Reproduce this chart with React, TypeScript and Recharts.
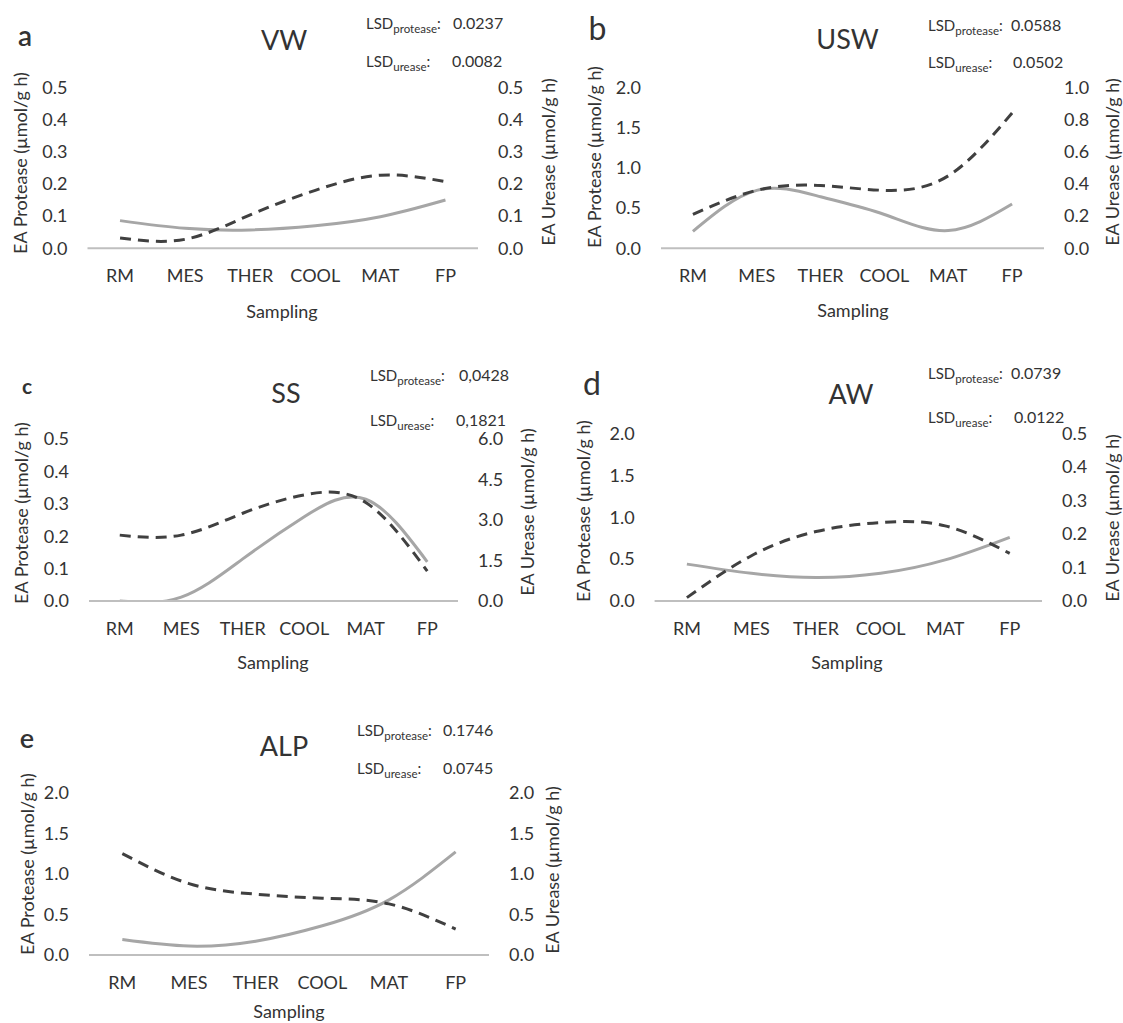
import React from 'react';
import { LineChart, Line, XAxis, YAxis } from 'recharts';

const FONT = 'Lato, "Open Sans", sans-serif';
const TEXT = '#333333';

const categories = ['RM', 'MES', 'THER', 'COOL', 'MAT', 'FP'];

// VW
const vwProtease = [0.086, 0.062, 0.057, 0.07, 0.098, 0.15];
const vwUrease = [0.032, 0.028, 0.104, 0.18, 0.227, 0.207];
// USW
const uswProtease = [0.21, 0.72, 0.64, 0.42, 0.22, 0.55];
const uswUrease = [0.21, 0.36, 0.39, 0.36, 0.45, 0.84];
// SS
const ssProtease = [0, 0.012, 0.13, 0.26, 0.314, 0.121];
const ssUrease = [2.44, 2.44, 3.25, 3.93, 3.65, 1.11];
// AW
const awProtease = [0.44, 0.33, 0.28, 0.33, 0.49, 0.76];
const awUrease = [0.01, 0.135, 0.207, 0.234, 0.224, 0.142];
// ALP
const alpProtease = [0.19, 0.11, 0.17, 0.36, 0.68, 1.27];
const alpUrease = [1.25, 0.88, 0.75, 0.7, 0.63, 0.32];

const ticksHalf = [0, 0.1, 0.2, 0.3, 0.4, 0.5];
const ticksTwo = [0, 0.5, 1, 1.5, 2];
const ticksOne = [0, 0.2, 0.4, 0.6, 0.8, 1];
const ticksSix = [0, 1.5, 3, 4.5, 6];

const lsdVW = ['0.0237', '0.0082'];
const lsdUSW = ['0.0588', '0.0502'];
const lsdSS = ['0,0428', '0,1821'];
const lsdAW = ['0.0739', '0.0122'];
const lsdALP = ['0.1746', '0.0745'];

const rows = (p: number[], u: number[]) =>
  categories.map((cat, i) => ({ cat, protease: p[i], urease: u[i] }));

const panels = [
  {
    letter: 'a', title: 'VW', protease: vwProtease, urease: vwUrease, lsd: lsdVW,
    left: ticksHalf, right: ticksHalf,
    x: 0, y: 0, w: 560, h: 340, plot: { left: 87.5, right: 478, top: 87.3, bottom: 248.3 },
    letterPos: [25, 35, 28, 600], titlePos: [284, 39.3], lsdX: 366, lsdY: [22.7, 60.7], valX: [453, 452],
    sampling: [282, 310.7], lTitle: [20, 163.3], rTitle: [548, 161.7],
  },
  {
    letter: 'b', title: 'USW', protease: uswProtease, urease: uswUrease, lsd: lsdUSW,
    left: ticksTwo, right: ticksOne,
    x: 560, y: 0, w: 563, h: 340, plot: { left: 101, right: 484, top: 87.3, bottom: 248.3 },
    letterPos: [37.5, 28.3, 32, 400], titlePos: [287.5, 38.3], lsdX: 368, lsdY: [25, 61.7], valX: [451, 453],
    sampling: [293, 310], lTitle: [34, 156.7], rTitle: [552, 161.7],
  },
  {
    letter: 'c', title: 'SS', protease: ssProtease, urease: ssUrease, lsd: lsdSS,
    left: ticksHalf, right: ticksSix,
    x: 0, y: 340, w: 560, h: 340, plot: { left: 89, right: 458, top: 99, bottom: 261 },
    letterPos: [27, 45, 21, 700], titlePos: [286, 51.7], lsdX: 370, lsdY: [35, 80], valX: [459, 456],
    sampling: [273, 321.7], lTitle: [21, 172.5], rTitle: [527, 171.7],
  },
  {
    letter: 'd', title: 'AW', protease: awProtease, urease: awUrease, lsd: lsdAW,
    left: ticksTwo, right: ticksHalf,
    x: 560, y: 340, w: 563, h: 340, plot: { left: 94.6, right: 482, top: 93.3, bottom: 261 },
    letterPos: [32, 43.3, 32, 400], titlePos: [291, 53.3], lsdX: 368, lsdY: [33.3, 77.3], valX: [451, 454],
    sampling: [287, 321.7], lTitle: [23, 170.8], rTitle: [552, 177.5],
  },
  {
    letter: 'e', title: 'ALP', protease: alpProtease, urease: alpUrease, lsd: lsdALP,
    left: ticksTwo, right: ticksTwo,
    x: 0, y: 680, w: 560, h: 343, plot: { left: 89, right: 489, top: 112.7, bottom: 275 },
    letterPos: [27, 56.7, 27, 600], titlePos: [284, 65], lsdX: 357, lsdY: [50, 88.3], valX: [443, 443],
    sampling: [289, 331], lTitle: [27, 184], rTitle: [552, 190],
  },
];

const fmt = (v: number) => v.toFixed(1);
const tickStyle = { fill: TEXT, fontSize: 18, fontFamily: FONT };
const X_AXIS_H = 40;

function Centered({ x, y, size, weight = 400, rotate = false, children }: any) {
  return (
    <div
      style={{
        position: 'absolute', left: x, top: y, fontSize: size, fontWeight: weight,
        fontFamily: FONT, color: TEXT, whiteSpace: 'nowrap', lineHeight: 1,
        transform: `translate(-50%, -50%)${rotate ? ' rotate(-90deg)' : ''}`,
      }}
    >
      {children}
    </div>
  );
}

function Lsd({ x, y, valX, sub, value }: any) {
  return (
    <>
      <div style={{ position: 'absolute', left: x, top: y, transform: 'translateY(-50%)', fontFamily: FONT, fontSize: 15, color: TEXT, lineHeight: 1, whiteSpace: 'nowrap' }}>
        LSD<span style={{ fontSize: 11.5, position: 'relative', top: 4 }}>{sub}</span>:
      </div>
      <div style={{ position: 'absolute', left: valX, top: y, transform: 'translateY(-50%)', fontFamily: FONT, fontSize: 16, color: TEXT, lineHeight: 1 }}>
        {value}
      </div>
    </>
  );
}

function Panel({ p }: any) {
  const band = (p.plot.right - p.plot.left) / categories.length;
  const data = rows(p.protease, p.urease);
  const lMax = p.left[p.left.length - 1];
  const rMax = p.right[p.right.length - 1];
  return (
    <div style={{ position: 'absolute', left: p.x, top: p.y, width: p.w, height: p.h }}>
      <LineChart
        width={p.w}
        height={p.h}
        data={data}
        margin={{ top: p.plot.top, bottom: p.h - p.plot.bottom - X_AXIS_H, left: 0, right: 0 }}
      >
        <XAxis
          dataKey="cat"
          height={X_AXIS_H}
          padding={{ left: band / 2, right: band / 2 }}
          interval={0}
          tickLine={false}
          tickSize={0}
          tickMargin={21}
          axisLine={{ stroke: '#bfbfbf', strokeWidth: 2 }}
          tick={tickStyle}
        />
        <YAxis
          yAxisId="l"
          width={p.plot.left}
          domain={[0, lMax]}
          allowDataOverflow
          ticks={p.left}
          interval={0}
          axisLine={false}
          tickLine={false}
          tickSize={0}
          tickMargin={20}
          tick={tickStyle}
          tickFormatter={fmt}
        />
        <YAxis
          yAxisId="r"
          orientation="right"
          width={p.w - p.plot.right}
          domain={[0, rMax]}
          allowDataOverflow
          ticks={p.right}
          interval={0}
          axisLine={false}
          tickLine={false}
          tickSize={0}
          tickMargin={20}
          tick={tickStyle}
          tickFormatter={fmt}
        />
        <Line yAxisId="l" dataKey="protease" type="natural" stroke="#a6a6a6" strokeWidth={3} dot={false} isAnimationActive={false} />
        <Line yAxisId="r" dataKey="urease" type="natural" stroke="#404040" strokeWidth={3} strokeDasharray="11 7" dot={false} isAnimationActive={false} />
      </LineChart>

      <Centered x={p.letterPos[0]} y={p.letterPos[1]} size={p.letterPos[2]} weight={p.letterPos[3]}>{p.letter}</Centered>
      <Centered x={p.titlePos[0]} y={p.titlePos[1]} size={27}>{p.title}</Centered>
      <Lsd x={p.lsdX} y={p.lsdY[0]} valX={p.valX[0]} sub="protease" value={p.lsd[0]} />
      <Lsd x={p.lsdX} y={p.lsdY[1]} valX={p.valX[1]} sub="urease" value={p.lsd[1]} />
      <Centered x={p.sampling[0]} y={p.sampling[1]} size={18}>Sampling</Centered>
      <Centered x={p.lTitle[0]} y={p.lTitle[1]} size={18} rotate>EA Protease (µmol/g h)</Centered>
      <Centered x={p.rTitle[0]} y={p.rTitle[1]} size={18} rotate>EA Urease (µmol/g h)</Centered>
    </div>
  );
}

export default function App() {
  return (
    <div style={{ position: 'absolute', left: 0, top: 0, width: 1123, height: 1023, background: '#fff', overflow: 'hidden' }}>
      {panels.map((p) => (
        <Panel key={p.letter} p={p} />
      ))}
    </div>
  );
}
